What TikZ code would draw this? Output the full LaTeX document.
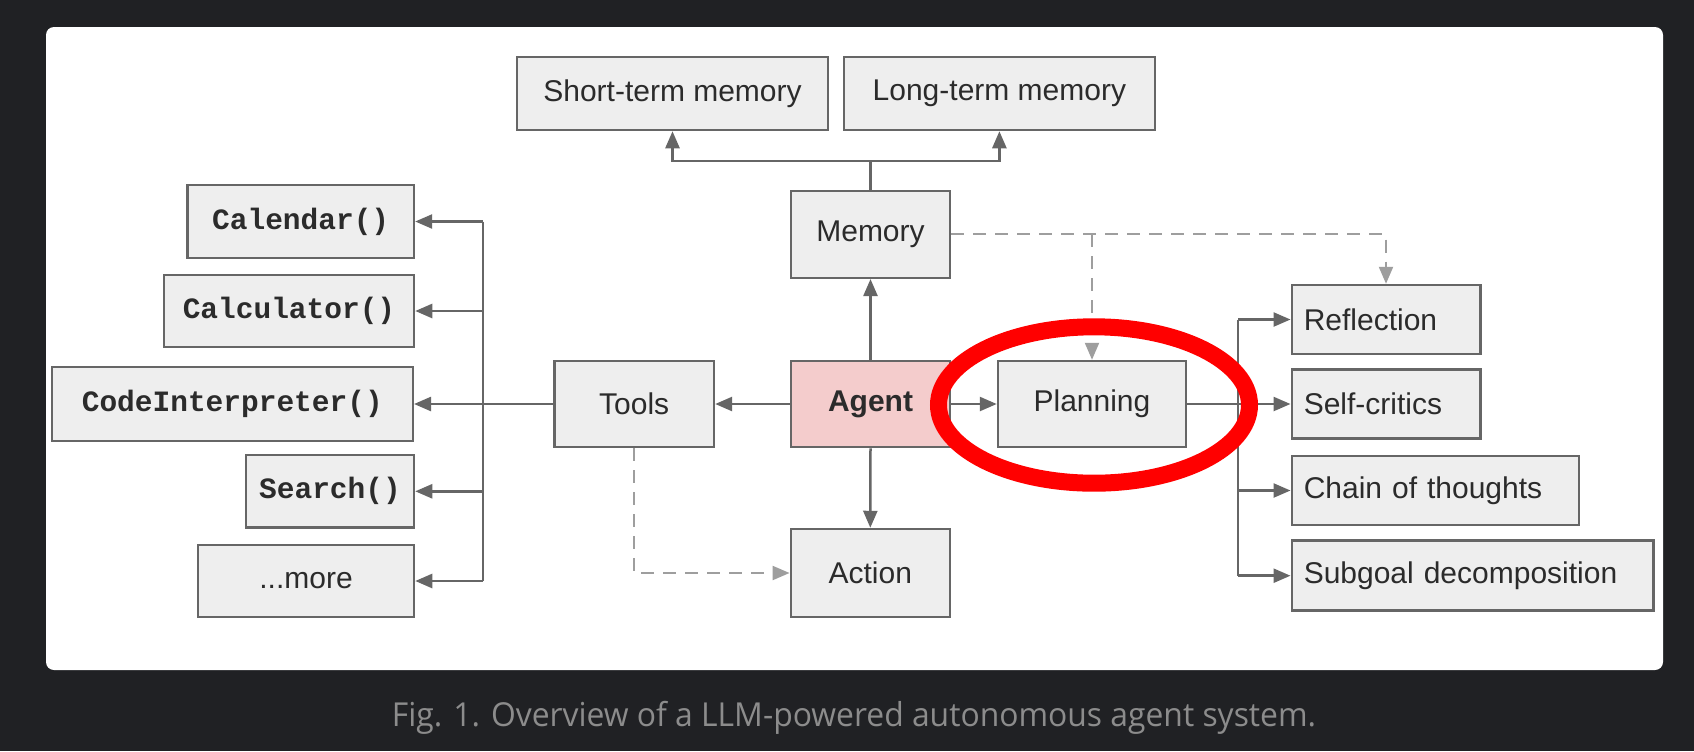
\documentclass[tikz,border=0pt]{standalone}
\usepackage{fontspec}
\setmainfont{Liberation Sans}
\setmonofont{Liberation Mono}
\newfontfamily\capfont{Open Sans}
\usetikzlibrary{arrows.meta}
\definecolor{bgdark}{HTML}{202124}
\definecolor{boxfill}{HTML}{EEEEEE}
\definecolor{linegray}{HTML}{666666}
\definecolor{dashgray}{HTML}{9E9E9E}
\definecolor{txt}{HTML}{2B2B2B}
\definecolor{agentfill}{HTML}{F4CCCC}
\definecolor{capgray}{HTML}{8C8C8C}
\definecolor{markred}{HTML}{FF0000}
\begin{document}
\begin{tikzpicture}[x=0.5pt,y=-0.5pt,
  box/.style={draw=linegray, fill=boxfill, line width=1.25pt, inner sep=0pt,
    text=txt, font=\fontsize{15}{18}\selectfont},
  mbox/.style={box, font=\ttfamily\bfseries\fontsize{14.75}{18}\selectfont},
  rbox/.style={box, anchor=west, align=left, inner xsep=6pt, text width=#1},
  conn/.style={draw=linegray, line width=1.25pt},
  arr/.style={conn, -{Triangle[length=8.5pt,width=7pt]}},
  darr/.style={draw=dashgray, line width=1.1pt, dash pattern=on 6.5pt off 4.5pt,
    -{Triangle[length=8.5pt,width=7pt]}},
]
\useasboundingbox (0,0) rectangle (1694,751);
\fill[bgdark] (0,0) rectangle (1694,751);
\fill[white, rounded corners=4pt] (46,27) rectangle (1663,670);

% memory branch
\node[box, minimum width=155.5pt, minimum height=36.5pt] (stm) at (672.5,93.5) {Short-term memory};
\node[box, minimum width=155.5pt, minimum height=36.5pt] (ltm) at (999.4,93.5) {Long-term memory};
\node[box, minimum width=79.5pt, minimum height=43.5pt] (mem) at (870.5,234.3) {Memory};

% centre row
\node[box, fill=agentfill, font=\bfseries\fontsize{15}{18}\selectfont, minimum width=79.5pt, minimum height=43pt] (agent) at (870.5,404) {Agent};
\node[box, minimum width=79.75pt, minimum height=43pt] (tools) at (634.2,404) {Tools};
\node[box, minimum width=94pt, minimum height=43pt] (plan) at (1092,404) {Planning};
\node[box, minimum width=79.5pt, minimum height=44pt] (action) at (870.3,573) {Action};

% tools
\node[mbox, minimum width=113.25pt, minimum height=36.5pt] (cal) at (300.7,221.5) {Calendar()};
\node[mbox, minimum width=125pt, minimum height=36pt] (calc) at (289,311) {Calculator()};
\node[mbox, minimum width=180.5pt, minimum height=37pt] (code) at (232.3,404) {CodeInterpreter()};
\node[mbox, minimum width=84pt, minimum height=36.35pt] (search) at (330,491.3) {Search()};
\node[box, minimum width=108pt, minimum height=36pt] (more) at (306,581) {...more};

% planning
\node[rbox=82.25pt, minimum height=34.5pt] (refl) at (1290.5,319.5) {Reflection};
\node[rbox=82.25pt, minimum height=34.5pt] (self) at (1290.5,404) {Self-critics};
\node[rbox=131.5pt, minimum height=34.5pt] (chain) at (1290.5,490.5) {Chain of thoughts};
\node[rbox=168.75pt, minimum height=35pt] (sub) at (1290.5,575.7) {Subgoal decomposition};

% junction coordinates
\coordinate (mj) at (870.5,161);
\coordinate (tb) at (483,404);
\coordinate (pb) at (1238,404);

% memory connectors
\draw[conn] (mem.north) -- (mj);
\draw[arr] (mj) -| (stm.south);
\draw[arr] (mj) -| (ltm.south);
\draw[arr] (agent.north) -- (mem.south);

% agent connectors
\draw[arr] (agent.west) -- (tools.east);
\draw[arr] (agent.east) -- (plan.west);
\draw[arr] (agent.south) -- (action.north);

% tools bus
\draw[arr] (tools.west) -- (code.east);
\draw[conn] (tb |- cal.east) -- (tb |- more.east);
\draw[arr] (tb |- cal.east) -- (cal.east);
\draw[arr] (tb |- calc.east) -- (calc.east);
\draw[arr] (tb |- search.east) -- (search.east);
\draw[arr] (tb |- more.east) -- (more.east);

% planning bus
\draw[arr] (plan.east) -- (self.west);
\draw[conn] (pb |- refl.west) -- (pb |- sub.west);
\draw[arr] (pb |- refl.west) -- (refl.west);
\draw[arr] (pb |- chain.west) -- (chain.west);
\draw[arr] (pb |- sub.west) -- (sub.west);

% dashed connectors
\draw[darr] (mem.east) -| (refl.north);
\draw[darr] (plan.north |- mem.east) -- (plan.north);
\draw[darr] (tools.south) |- (action.west);

% red highlight
\draw[markred, line width=8.5pt] (1094,405) ellipse [x radius=155.5, y radius=78.2];

% caption
\node[anchor=base, font=\capfont\fontsize{16.5}{19}\selectfont, text=capgray, inner sep=0pt] (cap) at (854,726.7) {\scalebox{0.965}[1]{Fig. 1. Overview of a LLM-powered autonomous agent system.}};
\end{tikzpicture}
\end{document}
